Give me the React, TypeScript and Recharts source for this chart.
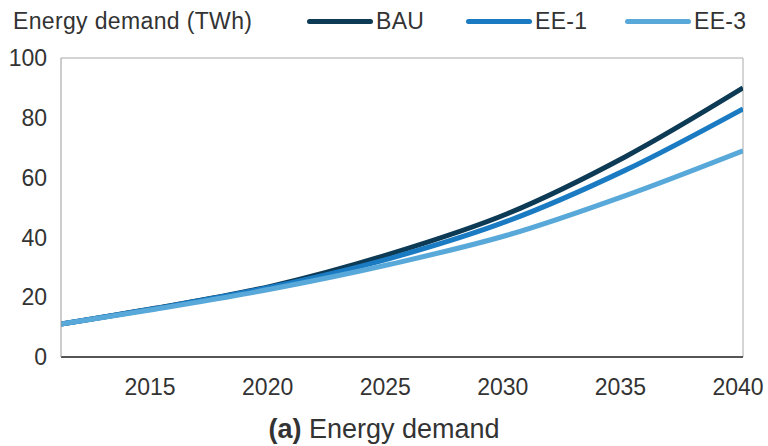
import React from 'react'
import { LineChart, Line, XAxis, YAxis, ReferenceLine } from 'recharts'

const years = [2011, 2015, 2020, 2025, 2030, 2035, 2040]
const bau = [11, 16.3, 23.8, 34.5, 48, 67, 90]
const ee1 = [11, 16.2, 23.5, 33, 45.5, 62.5, 83]
const ee3 = [11, 16, 22.8, 31, 40.8, 54, 69]

const xTicks = [2015, 2020, 2025, 2030, 2035, 2040]
const yTicks = [0, 20, 40, 60, 80, 100]

const series = [
  { key: 'bau', name: 'BAU', color: '#0d3a55' },
  { key: 'ee1', name: 'EE-1', color: '#1a7bc3' },
  { key: 'ee3', name: 'EE-3', color: '#58a9d9' },
]

const data = years.map((year, i) => ({
  year,
  bau: bau[i],
  ee1: ee1[i],
  ee3: ee3[i],
}))

const font = '"Liberation Sans", Arial, Helvetica, sans-serif'
const textColor = '#333'

// legend layout: line start x for each item
const legendX = [307, 466, 625]

export default function App() {
  return (
    <div
      style={{
        position: 'absolute',
        left: 0,
        top: 0,
        width: 768,
        height: 446,
        background: '#fff',
        fontFamily: font,
        overflow: 'hidden',
      }}
    >
      {/* title */}
      <div
        style={{
          position: 'absolute',
          left: 13,
          top: 7,
          fontSize: 23,
          letterSpacing: 0.35,
          color: textColor,
          lineHeight: '28px',
          whiteSpace: 'nowrap',
        }}
      >
        Energy demand (TWh)
      </div>

      {/* legend */}
      {series.map((s, i) => (
        <div
          key={s.key}
          style={{
            position: 'absolute',
            left: legendX[i],
            top: 7,
            height: 28,
            display: 'flex',
            alignItems: 'center',
            whiteSpace: 'nowrap',
          }}
        >
          <span
            style={{
              display: 'inline-block',
              width: 66,
              height: 5,
              borderRadius: 3,
              background: s.color,
              marginRight: 3,
            }}
          />
          <span style={{ fontSize: 23, letterSpacing: 0.3, color: textColor }}>{s.name}</span>
        </div>
      ))}

      <LineChart
        width={768}
        height={446}
        data={data}
        margin={{ top: 58, right: 25, left: 0, bottom: 49 }}
      >
        <XAxis
          dataKey="year"
          type="number"
          domain={[2011, 2040]}
          ticks={xTicks}
          allowDataOverflow
          height={40}
          tickLine={false}
          tickMargin={16}
          axisLine={{ stroke: '#555', strokeWidth: 2 }}
          tick={{ fontSize: 23, fill: textColor, fontFamily: font, dx: -5 }}
        />
        <YAxis
          domain={[0, 100]}
          ticks={yTicks}
          width={61}
          tickLine={false}
          tickMargin={8}
          axisLine={{ stroke: '#999' }}
          tick={{ fontSize: 23, fill: textColor, fontFamily: font }}
        />
        <ReferenceLine y={100} stroke="#aaa" />
        <ReferenceLine x={2040} stroke="#aaa" />
        {series.map((s) => (
          <Line
            key={s.key}
            type="monotone"
            dataKey={s.key}
            name={s.name}
            stroke={s.color}
            strokeWidth={5}
            dot={false}
            activeDot={false}
            isAnimationActive={false}
          />
        ))}
      </LineChart>

      {/* caption */}
      <div
        style={{
          position: 'absolute',
          left: 0,
          width: 768,
          top: 414,
          textAlign: 'center',
          fontSize: 27,
          color: textColor,
          lineHeight: '30px',
          whiteSpace: 'nowrap',
        }}
      >
        <b>(a)</b> Energy demand
      </div>
    </div>
  )
}
